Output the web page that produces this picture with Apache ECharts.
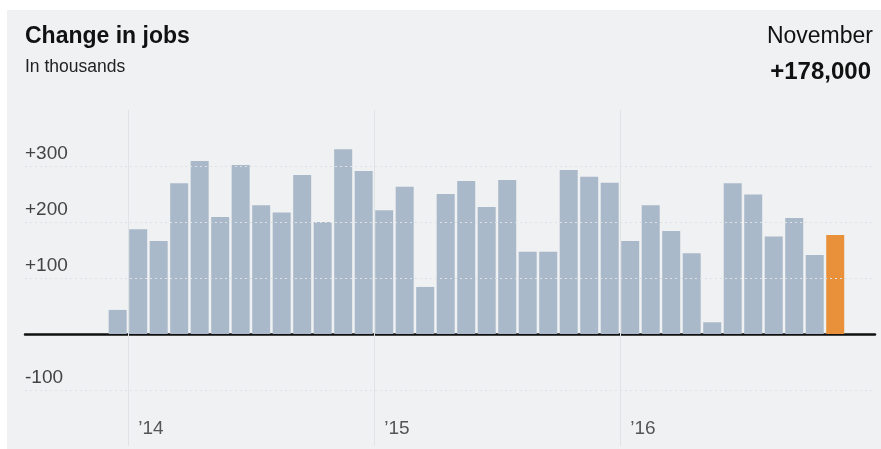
<!DOCTYPE html>
<html lang="en">
<head>
    <meta charset="UTF-8">
    <title>Change in jobs</title>
    <script src="https://cdn.jsdelivr.net/npm/echarts@6.0.0/dist/echarts.min.js"></script>
    <style type="text/css">
        body { margin: 0; background: #ffffff; }
        #panel {
            position: absolute;
            left: 7px; top: 10px; right: 0; bottom: 0;
            background: #eff1f2;
        }
        #myChart { position: absolute; left: 0; top: 0; width: 881px; height: 449px; }
    </style>
</head>
<body>
<div id="panel"></div>
<div id="myChart"></div>

<script>
    // monthly change in jobs, Dec 2013 .. Nov 2016 (thousands)
    var months = ['Dec 13',
        'Jan 14', 'Feb 14', 'Mar 14', 'Apr 14', 'May 14', 'Jun 14', 'Jul 14', 'Aug 14', 'Sep 14', 'Oct 14', 'Nov 14', 'Dec 14',
        'Jan 15', 'Feb 15', 'Mar 15', 'Apr 15', 'May 15', 'Jun 15', 'Jul 15', 'Aug 15', 'Sep 15', 'Oct 15', 'Nov 15', 'Dec 15',
        'Jan 16', 'Feb 16', 'Mar 16', 'Apr 16', 'May 16', 'Jun 16', 'Jul 16', 'Aug 16', 'Sep 16', 'Oct 16', 'Nov 16'];
    var jobs = [43,
        187, 166, 269, 309, 209, 302, 230, 217, 284, 200, 330, 291,
        221, 263, 84, 250, 273, 227, 275, 147, 147, 293, 281, 270,
        166, 230, 184, 144, 21, 269, 249, 174, 207, 141, 177];
    var yearLabels = ['\u201914', '\u201915', '\u201916'];
    var yearStarts = [0, 12, 24];   // boundary before each January
    var yTicks = [-100, 100, 200, 300];

    var barColor = '#aab9ca';
    var lastColor = '#e8913a';

    var barData = jobs.map(function (v, i) {
        var item = { value: [i - 0.5, v] };
        if (i === jobs.length - 1) {
            item.itemStyle = { color: lastColor };
        }
        return item;
    });

    var gridLines = [];
    yTicks.forEach(function (t) {
        gridLines.push({ yAxis: t, lineStyle: { color: '#dde1e5', type: [2, 3], width: 1 } });
    });
    yearStarts.forEach(function (s) {
        gridLines.push({ xAxis: s, lineStyle: { color: '#e0e3e6', type: 'solid', width: 1 } });
    });

    var font = '"Liberation Sans", Arial, sans-serif';

    var myChart = echarts.init(document.getElementById('myChart'));

    var option = {
        animation: false,
        backgroundColor: 'transparent',
        title: [
            {
                text: 'Change in jobs', left: 25, top: 25, padding: 0,
                textStyle: { fontFamily: font, fontSize: 23, fontWeight: 'bold', color: '#111', lineHeight: 23 }
            },
            {
                text: 'In thousands', left: 25, top: 58, padding: 0,
                textStyle: { fontFamily: font, fontSize: 17.5, fontWeight: 'normal', color: '#222', lineHeight: 18 }
            },
            {
                text: 'November', right: 8, top: 25, padding: 0,
                textStyle: { fontFamily: font, fontSize: 23, fontWeight: 'normal', color: '#111', lineHeight: 23 }
            },
            {
                text: '+178,000', right: 10, top: 60, padding: 0,
                textStyle: { fontFamily: font, fontSize: 24, fontWeight: 'bold', color: '#111', lineHeight: 24 }
            }
        ],
        grid: { left: 25, right: 6, top: 110, bottom: 3, containLabel: false, outerBoundsMode: 'none' },
        xAxis: {
            type: 'value',
            min: -5.02,
            max: 36.44,
            splitLine: { show: false },
            axisTick: { show: false },
            axisLine: { show: true, onZero: true, lineStyle: { color: '#111', width: 2.5 } },
            axisLabel: {
                customValues: [0.5, 12.5, 24.5],
                formatter: function (v) {
                    return yearLabels[Math.round((v - 0.5) / 12)];
                },
                align: 'left',
                verticalAlign: 'middle',
                margin: -17,
                fontFamily: font,
                fontSize: 19,
                color: '#555'
            }
        },
        yAxis: {
            type: 'value',
            min: -200,
            max: 400,
            interval: 100,
            splitLine: { show: false },
            axisTick: { show: false },
            axisLine: { show: false },
            axisLabel: {
                inside: true,
                margin: 0,
                align: 'left',
                verticalAlign: 'bottom',
                padding: [0, 0, 3, 0],
                fontFamily: font,
                fontSize: 19,
                color: '#444',
                formatter: function (v) {
                    if (yTicks.indexOf(v) < 0) return '';
                    return v > 0 ? '+' + v : String(v);
                }
            }
        },
        series: [
            {
                type: 'bar',
                name: 'Change in jobs',
                data: barData,
                barWidth: 18,
                itemStyle: { color: barColor },
                z: 3
            },
            {
                type: 'line',
                data: [],
                z: 1,
                markLine: {
                    silent: true,
                    symbol: ['none', 'none'],
                    label: { show: false },
                    data: gridLines
                }
            }
        ]
    };

    myChart.setOption(option);
</script>
</body>
</html>
